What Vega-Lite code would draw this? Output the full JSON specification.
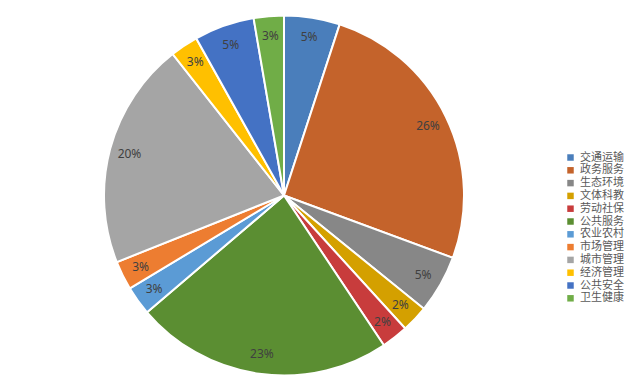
{
  "$schema": "https://vega.github.io/schema/vega-lite/v6.json",
  "autosize": {"type": "fit", "contains": "padding"},
  "width": 644,
  "height": 391,
  "padding": {"left": 0, "top": 0, "right": 76, "bottom": 0},
  "background": "white",
  "config": {"view": {"stroke": null}, "font": "Noto Sans CJK SC"},
  "data": {
    "values": [
      {"k": 1, "name": "交通运输", "value": 0.050},
      {"k": 2, "name": "政务服务", "value": 0.256},
      {"k": 3, "name": "生态环境", "value": 0.052},
      {"k": 4, "name": "文体科教", "value": 0.024},
      {"k": 5, "name": "劳动社保", "value": 0.024},
      {"k": 6, "name": "公共服务", "value": 0.231},
      {"k": 7, "name": "农业农村", "value": 0.026},
      {"k": 8, "name": "市场管理", "value": 0.026},
      {"k": 9, "name": "城市管理", "value": 0.204},
      {"k": 10, "name": "经济管理", "value": 0.025},
      {"k": 11, "name": "公共安全", "value": 0.054},
      {"k": 12, "name": "卫生健康", "value": 0.027}
    ]
  },
  "encoding": {
    "theta": {"field": "value", "type": "quantitative", "stack": true},
    "order": {"field": "k", "type": "quantitative"}
  },
  "layer": [
    {
      "mark": {"type": "arc", "outerRadius": 180, "stroke": "white", "strokeWidth": 2},
      "encoding": {
        "color": {
          "field": "name",
          "type": "nominal",
          "sort": ["交通运输","政务服务","生态环境","文体科教","劳动社保","公共服务","农业农村","市场管理","城市管理","经济管理","公共安全","卫生健康"],
          "scale": {
            "domain": ["交通运输","政务服务","生态环境","文体科教","劳动社保","公共服务","农业农村","市场管理","城市管理","经济管理","公共安全","卫生健康"],
            "range": ["#4A7EBB","#C4632B","#878787","#D4A000","#C83C3C","#5B8E32","#5B9BD5","#ED7D31","#A5A5A5","#FFC000","#4472C4","#70AD47"]
          },
          "legend": {
            "title": null,
            "orient": "none",
            "legendX": 565,
            "legendY": 152,
            "symbolType": "square",
            "symbolSize": 42,
            "symbolStrokeWidth": 0,
            "labelFontSize": 11,
            "labelColor": "#595959",
            "labelFont": "Noto Sans CJK SC",
            "rowPadding": 0.8,
            "labelOffset": 4
          }
        }
      }
    },
    {
      "mark": {"type": "text", "radius": 160, "fontSize": 12, "fill": "#404040", "font": "Noto Sans"},
      "encoding": {
        "text": {"field": "value", "type": "quantitative", "format": ".0%"}
      }
    }
  ]
}
